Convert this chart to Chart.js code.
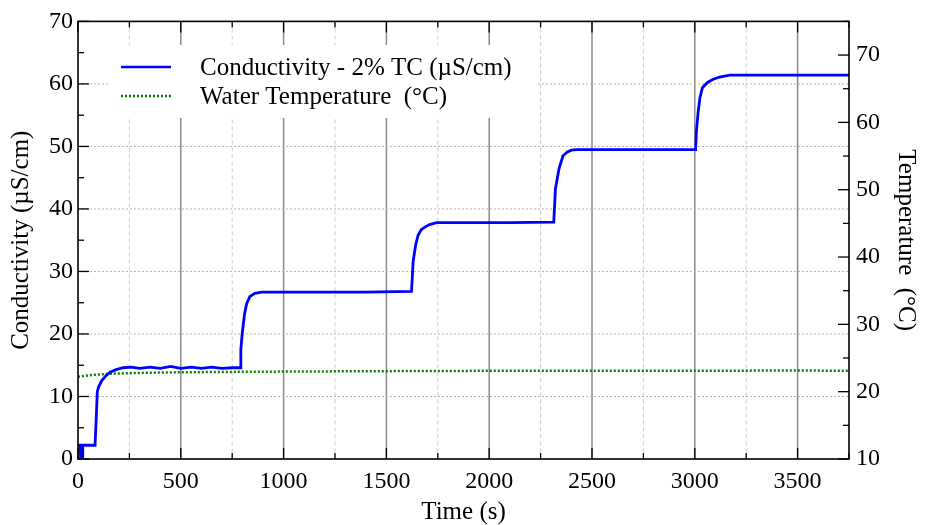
<!DOCTYPE html>
<html>
<head>
<meta charset="utf-8">
<script src="https://cdn.jsdelivr.net/npm/chart.js@4"></script>
<style>
  html, body { margin: 0; padding: 0; background: #fff; }
  #wrap { width: 927px; height: 525px; }
</style>
</head>
<body>
<div id="wrap"><canvas id="chart" width="927" height="525"></canvas></div>
<script>
// Conductivity (left axis)
const condTime = [0, 10, 13, 20, 23, 83, 88, 94, 100, 115, 135, 156, 185, 220, 260, 300, 350, 400, 450, 500,
  550, 600, 650, 700, 750, 788, 792, 799, 810, 820, 836, 860, 893, 1000, 1200, 1400,
  1622, 1626, 1630, 1642, 1654, 1670, 1687, 1710, 1744, 1900, 2100,
  2314, 2318, 2322, 2340, 2359, 2380, 2400, 2424, 2600, 2800,
  3004, 3008, 3016, 3025, 3037, 3060, 3087, 3120, 3170, 3400, 3750];
const condValue = [2.2, 2.2, 0, 0, 2.2, 2.2, 6, 10.8, 11.5, 12.5, 13.3, 13.9, 14.3, 14.6, 14.7, 14.5, 14.7, 14.5, 14.8, 14.5,
  14.7, 14.5, 14.7, 14.5, 14.6, 14.6, 17.5, 20.2, 23.2, 24.8, 26.0, 26.5, 26.7, 26.7, 26.7, 26.7,
  26.8, 29, 31.6, 34.2, 35.8, 36.7, 37.1, 37.5, 37.8, 37.8, 37.8,
  37.9, 40.5, 43.2, 46.5, 48.5, 49.1, 49.4, 49.5, 49.5, 49.5,
  49.5, 52.5, 55.4, 57.8, 59.4, 60.2, 60.7, 61.1, 61.4, 61.4, 61.4];

// Water temperature (right axis)
const tempTime = [0, 30, 80, 150, 250, 400, 600, 800, 1100, 1500, 2000, 2500, 3000, 3500, 3750];
const tempValue = [22.2, 22.35, 22.5, 22.65, 22.75, 22.85, 22.9, 22.95, 23.0, 23.05, 23.1, 23.1, 23.1, 23.15, 23.1];

const legendLabels = ['Conductivity - 2% TC (\u00b5S/cm)', 'Water Temperature  (\u00b0C)'];
const FONT = 'Liberation Serif';

const toPoints = (xs, ys) => xs.map((x, i) => ({ x: x, y: ys[i] }));

// grid, frame, inward ticks and the legend box
const framePlugin = {
  id: 'frame',
  beforeDatasetsDraw(chart) {
    const { ctx, chartArea: a, scales } = chart;
    ctx.save();
    // vertical grid
    for (let t = 250; t < 3750; t += 250) {
      const px = scales.x.getPixelForValue(t);
      ctx.beginPath();
      if (t % 500 === 0) {
        ctx.setLineDash([]);
        ctx.strokeStyle = '#8a8a8a';
        ctx.lineWidth = 1.5;
      } else {
        ctx.setLineDash([4, 3]);
        ctx.strokeStyle = '#cccccc';
        ctx.lineWidth = 1;
      }
      ctx.moveTo(px, a.top);
      ctx.lineTo(px, a.bottom);
      ctx.stroke();
    }
    // horizontal grid
    ctx.setLineDash([2, 2]);
    ctx.strokeStyle = '#b5b5b5';
    ctx.lineWidth = 1;
    for (let v = 10; v < 70; v += 10) {
      const py = scales.y.getPixelForValue(v);
      ctx.beginPath();
      ctx.moveTo(a.left, py);
      ctx.lineTo(a.right, py);
      ctx.stroke();
    }
    ctx.restore();
  },
  afterDatasetsDraw(chart) {
    const { ctx, chartArea: a, scales } = chart;
    ctx.save();
    ctx.setLineDash([]);
    ctx.strokeStyle = '#000';
    ctx.lineWidth = 1.3;
    // ticks
    for (let t = 0; t <= 3750; t += 250) {
      const px = scales.x.getPixelForValue(t);
      const len = t % 500 === 0 ? 11 : 6;
      ctx.beginPath();
      ctx.moveTo(px, a.bottom); ctx.lineTo(px, a.bottom - len);
      ctx.moveTo(px, a.top); ctx.lineTo(px, a.top + len);
      ctx.stroke();
    }
    for (let v = 0; v <= 70; v += 5) {
      const py = scales.y.getPixelForValue(v);
      const len = v % 10 === 0 ? 11 : 6;
      ctx.beginPath();
      ctx.moveTo(a.left, py); ctx.lineTo(a.left + len, py);
      ctx.stroke();
    }
    for (let v = 10; v <= 75; v += 5) {
      const py = scales.y2.getPixelForValue(v);
      const len = v % 10 === 0 ? 11 : 6;
      ctx.beginPath();
      ctx.moveTo(a.right, py); ctx.lineTo(a.right - len, py);
      ctx.stroke();
    }
    // frame
    ctx.lineWidth = 1.6;
    ctx.strokeRect(a.left, a.top, a.right - a.left, a.bottom - a.top);

    // legend
    ctx.fillStyle = '#fff';
    ctx.fillRect(108, 45, 430, 73);
    ctx.lineWidth = 2.5;
    ctx.strokeStyle = '#0000ff';
    ctx.beginPath(); ctx.moveTo(121, 67); ctx.lineTo(171, 67); ctx.stroke();
    ctx.strokeStyle = '#008000';
    ctx.setLineDash([2, 2]);
    ctx.beginPath(); ctx.moveTo(121, 96); ctx.lineTo(171, 96); ctx.stroke();
    ctx.setLineDash([]);
    ctx.fillStyle = '#000';
    ctx.font = '25px "' + FONT + '"';
    ctx.textBaseline = 'middle';
    ctx.fillText(legendLabels[0], 200, 68);
    ctx.fillText(legendLabels[1], 200, 97);
    ctx.restore();
  }
};

const tickFont = { family: FONT, size: 24 };
const titleFont = { family: FONT, size: 25, lineHeight: 1.0 };

new Chart(document.getElementById('chart'), {
  type: 'line',
  data: {
    datasets: [
      {
        label: legendLabels[0],
        data: toPoints(condTime, condValue),
        yAxisID: 'y',
        borderColor: '#0000ff',
        borderWidth: 2.8,
        pointRadius: 0,
        tension: 0
      },
      {
        label: legendLabels[1],
        data: toPoints(tempTime, tempValue),
        yAxisID: 'y2',
        borderColor: '#008000',
        borderWidth: 2.5,
        borderDash: [2, 2],
        pointRadius: 0,
        tension: 0
      }
    ]
  },
  options: {
    responsive: false,
    animation: false,
    layout: { padding: { top: 17, left: 0, right: 0, bottom: 0 } },
    plugins: { legend: { display: false }, tooltip: { enabled: false } },
    scales: {
      x: {
        type: 'linear',
        min: 0, max: 3750,
        grid: { display: false, drawTicks: false },
        border: { display: false },
        ticks: {
          stepSize: 250, autoSkip: false, maxRotation: 0, padding: 8,
          color: '#000', font: tickFont,
          callback: v => (v % 500 === 0 && v < 3750 ? v : '')
        },
        title: { display: true, text: 'Time (s)', color: '#000', font: titleFont, padding: { top: 0, bottom: 0 } },
        afterFit: s => { s.height = 66; }
      },
      y: {
        position: 'left',
        min: 0, max: 70,
        grid: { display: false, drawTicks: false },
        border: { display: false },
        ticks: {
          stepSize: 5, autoSkip: false, padding: 5,
          color: '#000', font: tickFont,
          callback: v => (v % 10 === 0 ? v : '')
        },
        title: { display: true, text: 'Conductivity (\u00b5S/cm)', color: '#000', font: titleFont, padding: { top: 9, bottom: 0 } },
        afterFit: s => { s.width = 78; }
      },
      y2: {
        position: 'right',
        min: 10, max: 75,
        grid: { display: false, drawTicks: false },
        border: { display: false },
        ticks: {
          stepSize: 5, autoSkip: false, padding: 7,
          color: '#000', font: tickFont,
          callback: v => (v % 10 === 0 ? v : '')
        },
        title: { display: true, text: 'Temperature  (\u00b0C)', color: '#000', font: titleFont, padding: { top: 9, bottom: 0 } },
        afterFit: s => { s.width = 78; }
      }
    }
  },
  plugins: [framePlugin]
});
</script>
</body>
</html>
